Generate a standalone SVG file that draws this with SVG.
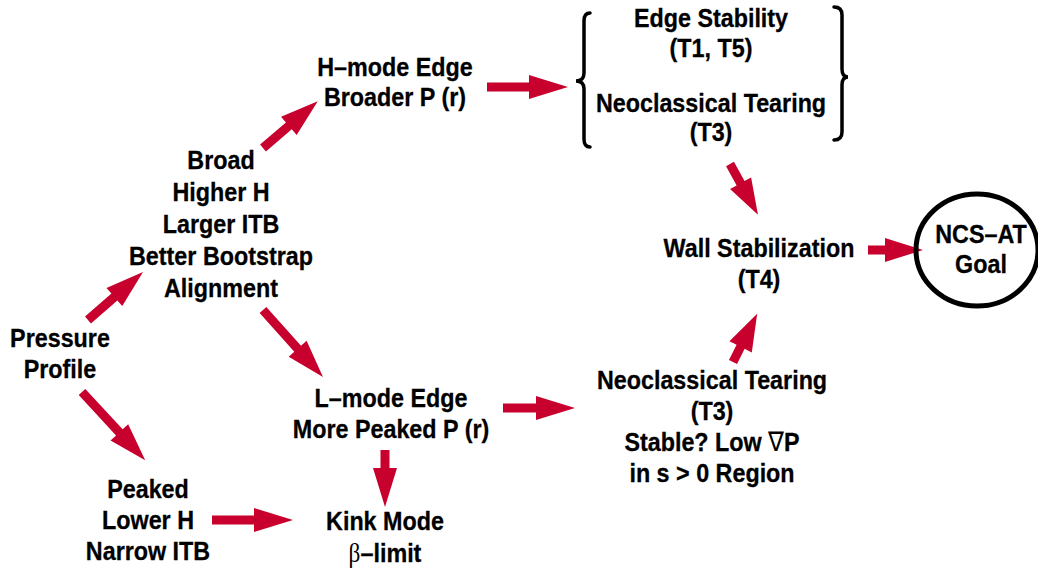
<svg xmlns="http://www.w3.org/2000/svg" width="1038" height="571" viewBox="0 0 1038 571">
  <style>
    text { font-family: "Liberation Sans", Arial, sans-serif; font-weight: bold; font-size: 26.5px; fill: #000; stroke: #000; stroke-width: 0.3; text-anchor: middle; }
    .sym { font-family: "Liberation Serif", "Times New Roman", serif; font-weight: normal; stroke-width: 0; }
    .arrow { fill: #C8002D; }
    .brace { fill: none; stroke: #000; stroke-width: 3.5; stroke-linecap: round; }
  </style>
  <defs>
    <!-- arrow shapes of varying length; shaft 9 wide, head 24 wide and 38 long -->
    <path id="a55" d="M0,-4.5 H17 V-12 L55,0 L17,12 V4.5 H0 Z"/>
  </defs>
  <rect width="1038" height="571" fill="#fff"/>

  <!-- connectors -->
  <g id="connectors" class="arrow">
    <path d="M0,-4.5 H35 V-12 L73,0 L35,12 V4.5 H0 Z" transform="translate(88 320) rotate(-41.1)"/>
    <path d="M0,-4.5 H34 V-12 L72,0 L34,12 V4.5 H0 Z" transform="translate(263 148) rotate(-40.5)"/>
    <path d="M0,-4.5 H42 V-12 L81,0 L42,12 V4.5 H0 Z" transform="translate(487 87)"/>
    <path d="M0,-4.5 H52 V-12 L90,0 L52,12 V4.5 H0 Z" transform="translate(263 310) rotate(48.2)"/>
    <path d="M0,-4.5 H55 V-12 L93,0 L55,12 V4.5 H0 Z" transform="translate(82 392) rotate(47.2)"/>
    <path d="M0,-4.5 H42 V-12 L81,0 L42,12 V4.5 H0 Z" transform="translate(212 520)"/>
    <path d="M0,-4.5 H18 V-12 L57,0 L18,12 V4.5 H0 Z" transform="translate(385 450) rotate(90)"/>
    <path d="M0,-4.5 H33 V-12 L72,0 L33,12 V4.5 H0 Z" transform="translate(503 408)"/>
    <path d="M0,-4.5 H17 V-12.5 L54,0 L17,12.5 V4.5 H0 Z" transform="translate(733 362) rotate(-63.4)"/>
    <path d="M0,-4.5 H22 V-12 L58,0 L22,12 V4.5 H0 Z" transform="translate(730 164) rotate(61.2)"/>
    <use href="#a55" transform="translate(868 250)"/>
  </g>

  <g id="pressure-profile" transform="translate(60 0) scale(0.88 1)">
    <text x="0" y="347">Pressure</text>
    <text x="0" y="378">Profile</text>
  </g>

  <g id="broad" transform="translate(221 0) scale(0.88 1)">
    <text x="0" y="169">Broad</text>
    <text x="0" y="201">Higher H</text>
    <text x="0" y="233">Larger ITB</text>
    <text x="0" y="265">Better Bootstrap</text>
    <text x="0" y="297">Alignment</text>
  </g>

  <g id="peaked" transform="translate(148 0) scale(0.88 1)">
    <text x="0" y="498">Peaked</text>
    <text x="0" y="529">Lower H</text>
    <text x="0" y="560">Narrow ITB</text>
  </g>

  <g id="h-mode" transform="translate(395 0) scale(0.88 1)">
    <text x="0" y="76">H–mode Edge</text>
    <text x="0" y="106">Broader P (r)</text>
  </g>

  <g id="l-mode" transform="translate(391 0) scale(0.88 1)">
    <text x="0" y="407">L–mode Edge</text>
    <text x="0" y="438">More Peaked P (r)</text>
  </g>

  <g id="kink-mode" transform="translate(385 0) scale(0.88 1)">
    <text x="0" y="530">Kink Mode</text>
    <text x="0" y="562"><tspan class="sym">β</tspan>–limit</text>
  </g>

  <g id="edge-stability">
    <path class="brace" d="M590,13 Q584,13 584,21 V73 Q584,81 576,81 Q584,81 584,89 V139 Q584,147 590,147"/>
    <path class="brace" d="M834,7 Q842,7 842,15 V69 Q842,77 848,77 Q842,77 842,85 V132 Q842,140 834,140"/>
    <g transform="translate(711 0) scale(0.88 1)">
      <text x="0" y="27">Edge Stability</text>
      <text x="0" y="57">(T1, T5)</text>
      <text x="0" y="112">Neoclassical Tearing</text>
      <text x="0" y="141">(T3)</text>
    </g>
  </g>

  <g id="neoclassical-tearing" transform="translate(712 0) scale(0.88 1)">
    <text x="0" y="389">Neoclassical Tearing</text>
    <text x="0" y="420">(T3)</text>
    <text x="0" y="451">Stable? Low <tspan class="sym">∇</tspan>P</text>
    <text x="0" y="482">in s &gt; 0 Region</text>
  </g>

  <g id="wall-stabilization" transform="translate(759 0) scale(0.88 1)">
    <text x="0" y="257">Wall Stabilization</text>
    <text x="0" y="288">(T4)</text>
  </g>

  <g id="ncs-at-goal">
    <ellipse cx="977" cy="250" rx="61" ry="56" fill="none" stroke="#000" stroke-width="5"/>
    <g transform="translate(981 0) scale(0.88 1)">
      <text x="0" y="243">NCS–AT</text>
      <text x="0" y="273">Goal</text>
    </g>
  </g>
</svg>
